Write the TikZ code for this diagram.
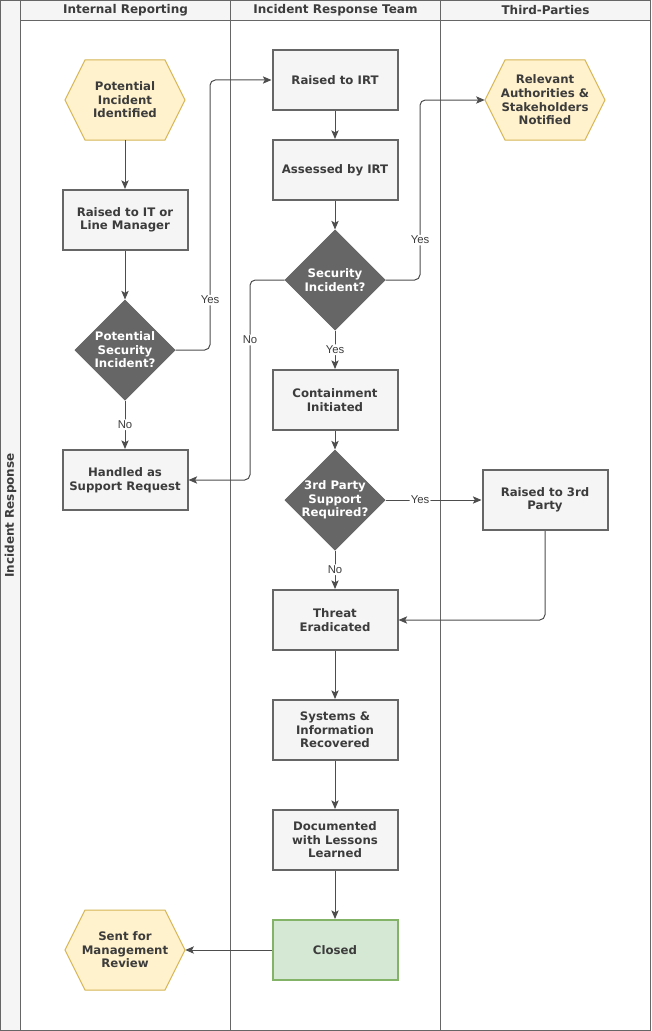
\documentclass[tikz,border=0pt]{standalone}
\usepackage{fontspec}
\setmainfont{DejaVu Sans}
\newfontfamily\lblfont{Liberation Sans}
\usetikzlibrary{shapes.geometric,arrows.meta}
\definecolor{frame}{HTML}{666666}
\definecolor{bandfill}{HTML}{F5F5F5}
\definecolor{boxfill}{HTML}{F5F5F5}
\definecolor{boxline}{HTML}{666666}
\definecolor{diafill}{HTML}{666666}
\definecolor{hexfill}{HTML}{FFF2CC}
\definecolor{hexline}{HTML}{D6B656}
\definecolor{okfill}{HTML}{D5E8D4}
\definecolor{okline}{HTML}{82B366}
\definecolor{txt}{HTML}{3C3C3C}
\definecolor{edge}{HTML}{4D4D4D}
\newcommand\myhex[4]{%
  \filldraw[hexst] ({#2-60},#3) -- ({#2-40},{#3-40}) -- ({#2+40},{#3-40}) -- ({#2+60},#3) -- ({#2+40},{#3+40}) -- ({#2-40},{#3+40}) -- cycle;
  \node[hexnode] (#1) at (#2,#3) {#4};}
\begin{document}
\begin{tikzpicture}[x=0.75pt,y=-0.75pt,
  boxfont/.style={font=\bfseries\fontsize{8.8}{10.2}\selectfont},
  box/.style={rectangle, draw=boxline, fill=boxfill, line width=1.5pt, minimum width=93.75pt, minimum height=45pt, align=center, boxfont, text=txt, inner sep=0pt},
  okbox/.style={box, draw=okline, fill=okfill},
  dia/.style={diamond, fill=diafill, draw=diafill, line width=0.75pt, minimum width=75pt, minimum height=75pt, inner sep=0pt},
  diatext/.style={text=white, boxfont, align=center, inner sep=0pt},
  hexst/.style={fill=hexfill, draw=hexline, line width=0.75pt},
  hexnode/.style={rectangle, draw=none, minimum width=90pt, minimum height=60pt, align=center, boxfont, text=txt, inner sep=0pt},
  hdr/.style={font=\bfseries\fontsize{9}{11}\selectfont, text=txt, inner sep=0pt},
  lbl/.style={font=\lblfont\fontsize{8.5}{10}\selectfont, fill=white, text=txt, inner sep=1pt},
  arr/.style={draw=edge, line width=0.75pt, -{Stealth[length=6.5pt,width=5.5pt,inset=1.5pt]}, rounded corners=4pt},
  lane/.style={draw=frame, line width=0.75pt}
]
\useasboundingbox (0,0) rectangle (651,1031);
% background and lanes
\fill[white] (0,0) rectangle (651,1031);
\fill[bandfill] (0.5,0.5) rectangle (20.5,1030.5);
\fill[bandfill] (20.5,0.5) rectangle (650.5,20.5);
\draw[lane] (0.5,0.5) rectangle (650.5,1030.5);
\draw[lane] (20.5,0.5) -- (20.5,1030.5);
\draw[lane] (230.5,0.5) -- (230.5,1030.5);
\draw[lane] (440.5,0.5) -- (440.5,1030.5);
\draw[lane] (20.5,20.5) -- (650.5,20.5);
\node[hdr] (h1) at (125.5,10.5) {Internal Reporting};
\node[hdr] (h2) at (335.5,10.5) {Incident Response Team};
\node[hdr] (h3) at (545.5,10.5) {Third-Parties};
\node[hdr, rotate=90] (pool) at (10.5,515.5) {Incident Response};
% shapes
\myhex{pii}{125}{100}{Potential\\Incident\\Identified}
\myhex{auth}{545}{100}{Relevant\\Authorities \&\\Stakeholders\\Notified}
\myhex{mgmt}{125}{950}{Sent for\\Management\\Review}
\node[box] (rit) at (125,220) {Raised to IT or\\Line Manager};
\node[dia, label={[diatext]center:Potential\\Security\\Incident?}] (d1) at (125,350) {};
\node[box] (hsr) at (125,480) {Handled as\\Support Request};
\node[box] (irt) at (335,80) {Raised to IRT};
\node[box] (ass) at (335,170) {Assessed by IRT};
\node[dia, label={[diatext]center:Security\\Incident?}] (d2) at (335,280) {};
\node[box] (cont) at (335,400) {Containment\\Initiated};
\node[dia, label={[diatext]center:3rd Party\\Support\\Required?}] (d3) at (335,500) {};
\node[box] (thr) at (335,620) {Threat\\Eradicated};
\node[box] (sys) at (335,730) {Systems \&\\Information\\Recovered};
\node[box] (doc) at (335,840) {Documented\\with Lessons\\Learned};
\node[okbox] (clo) at (335,950) {Closed};
\node[box] (r3p) at (545,500) {Raised to 3rd\\Party};
% connectors
\draw[arr] (pii) -- (rit);
\draw[arr] (rit) -- (d1);
\draw[arr] (d1.east) -- (210,350) -- node[lbl,pos=0.185] (l1) {Yes} (210,80) -- (irt.west);
\draw[arr] (d1.south) -- node[lbl] (l2) {No} (hsr.north);
\draw[arr] (irt) -- (ass);
\draw[arr] (ass) -- (d2);
\draw[arr] (d2.east) -- (420,280) -- node[lbl,pos=0.222] (l3) {Yes} (420,100) -- (auth.west);
\draw[arr] (d2.west) -- (250,280) -- node[lbl,pos=0.3] (l4) {No} (250,480) -- (hsr.east);
\draw[arr] (d2.south) -- node[lbl] (l5) {Yes} (cont.north);
\draw[arr] (cont) -- (d3);
\draw[arr] (d3.east) -- node[lbl,pos=0.36] (l6) {Yes} (r3p.west);
\draw[arr] (d3.south) -- node[lbl] (l7) {No} (thr.north);
\draw[arr] (r3p.south) -- (545,620) -- (thr.east);
\draw[arr] (thr) -- (sys);
\draw[arr] (sys) -- (doc);
\draw[arr] (doc) -- (clo);
\draw[arr] (clo.west) -- (mgmt.east);
\end{tikzpicture}
\end{document}
